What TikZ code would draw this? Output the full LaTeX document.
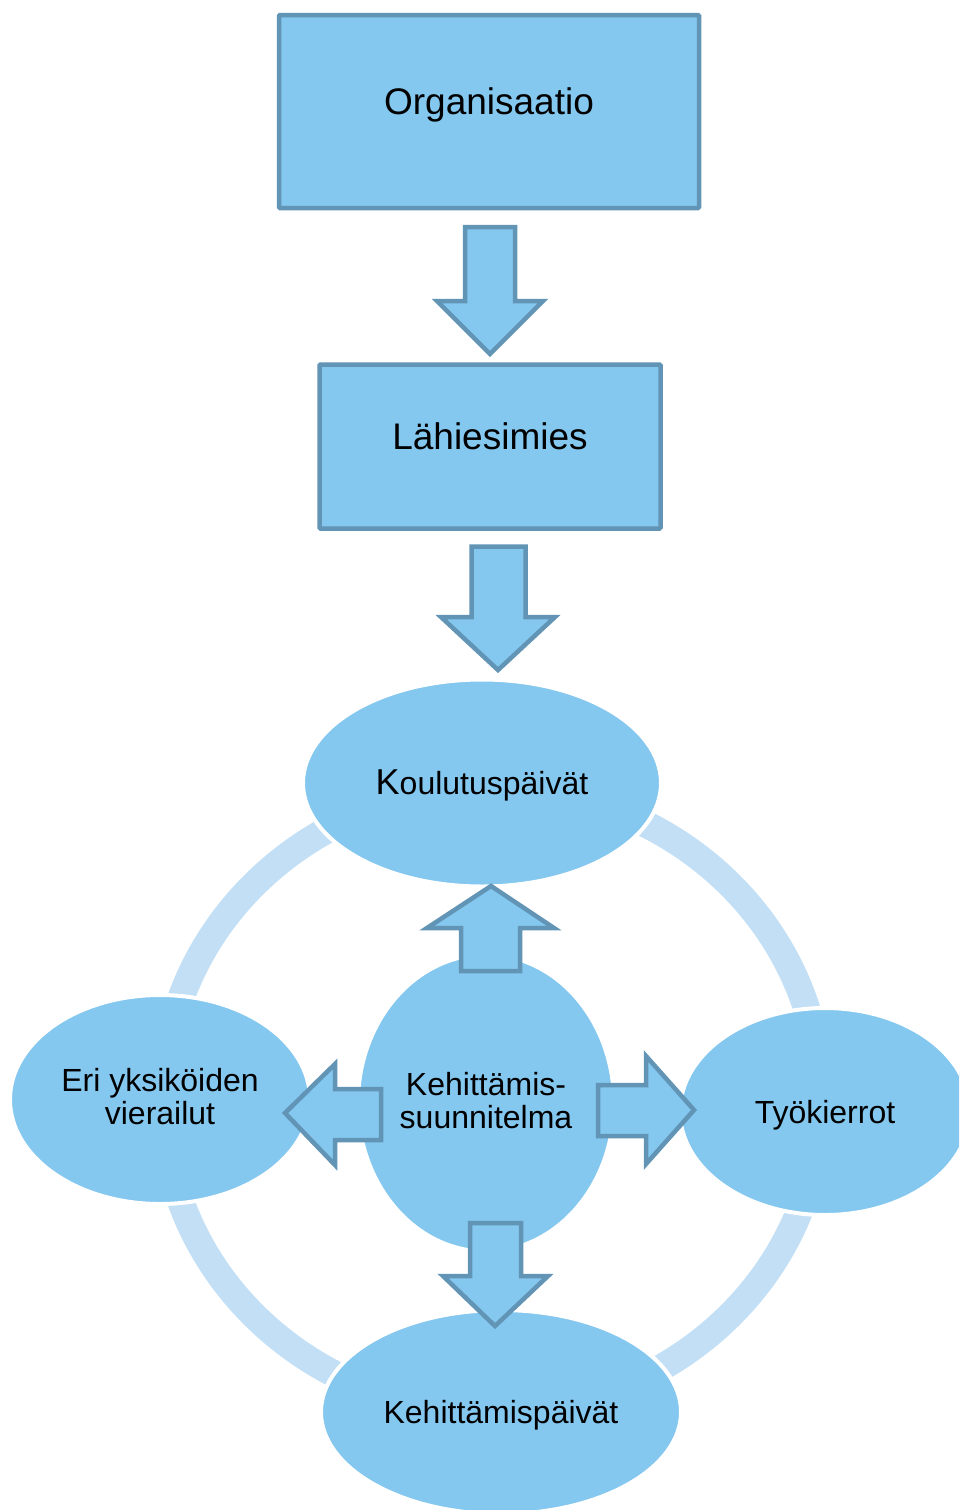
\documentclass[tikz,border=0pt]{standalone}
\usepackage{fontspec}
\setmainfont{Liberation Sans}
\usetikzlibrary{shapes.geometric}
\definecolor{boxfill}{RGB}{132,199,239}
\definecolor{boxline}{RGB}{97,148,181}
\definecolor{ringcol}{RGB}{194,223,245}
\pgfdeclarelayer{background}
\pgfsetlayers{background,main}
\begin{document}
\begin{tikzpicture}[x=1pt,y=-1pt,
  box/.style={draw=boxline, fill=boxfill, line width=4.5pt, rounded corners=1pt,
    inner sep=0pt, font=\fontsize{37}{40}\selectfont, text height=26.6pt, text depth=20.5pt},
  bubble/.style={ellipse, fill=boxfill, draw=white, line width=4pt, inner sep=0pt,
    font=\fontsize{32}{33}\selectfont, align=center, text height=23pt, text depth=0pt},
  twoline/.style={text height=50.5pt},
  blockarrow/.style={draw=boxline, fill=boxfill, line width=4.5pt, line join=miter},
  ring/.style={ringcol, line width=27pt}
]
\useasboundingbox (0,0) rectangle (959,1510);
\clip (0,0) rectangle (959,1510);

% top of the hierarchy
\node[box, minimum width=420pt, minimum height=193pt] (org) at (489,111.5) {Organisaatio};
\node[box, minimum width=341pt, minimum height=164pt] (lah) at (490,446.5) {Lähiesimies};

% development cycle
\node[bubble, minimum width=358pt, minimum height=207pt] (koul) at (482,783)
  {{\fontsize{36}{36}\selectfont K}oulutuspäivät};
\node[bubble, twoline, minimum width=300pt, minimum height=209pt] (eri) at (160,1099.5)
  {Eri yksiköiden\\vierailut};
\node[bubble, minimum width=290pt, minimum height=207pt] (tyo) at (825,1111.5)
  {Työkierrot};
\node[bubble, minimum width=360pt, minimum height=204pt] (kpv) at (501,1412)
  {Kehittämispäivät};
\node[bubble, twoline, minimum width=256pt, minimum height=297pt] (ksu) at (486,1103)
  {Kehittämis-\\suunnitelma};

% ring behind the outer bubbles; only the parts between them stay visible
\begin{pgfonlayer}{background}
  \coordinate (hub) at (492,1100);
  \draw[ring] (hub) ellipse [x radius=329pt, y radius=312pt];
\end{pgfonlayer}

% block arrows
\draw[blockarrow] (465,227) -- (515,227) -- (515,301) -- (543,301) -- (490,354)
  -- (437,301) -- (465,301) -- cycle;
\draw[blockarrow] (471.5,546.5) -- (525.5,546.5) -- (525.5,617) -- (555,617) -- (498,670)
  -- (441,617) -- (471.5,617) -- cycle;
% from the plan outwards
\draw[blockarrow] (461,971) -- (461,928) -- (427,928) -- (491,886) -- (554,928)
  -- (520,928) -- (520,971) -- cycle;
\draw[blockarrow] (381,1089) -- (335,1089) -- (335,1064) -- (285,1113) -- (335,1165)
  -- (335,1140) -- (381,1140) -- cycle;
\draw[blockarrow] (598,1085) -- (646,1085) -- (646,1056) -- (694,1110) -- (646,1164)
  -- (646,1136) -- (598,1136) -- cycle;
\draw[blockarrow] (470,1223) -- (521,1223) -- (521,1276) -- (548,1276) -- (495,1326)
  -- (443,1276) -- (470,1276) -- cycle;
\end{tikzpicture}
\end{document}
